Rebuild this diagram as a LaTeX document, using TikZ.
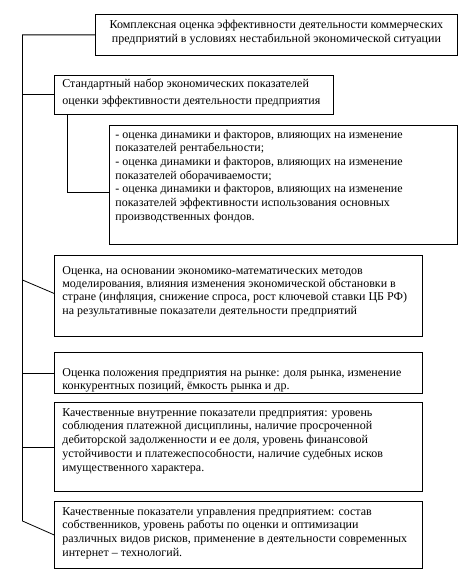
\documentclass[tikz,border=0pt]{standalone}
\usepackage{fontspec}
\setmainfont{Liberation Serif}
\newcommand\bxtext[6]{% width, height, left pad, first baseline, baselineskip, text
  \parbox[c][#2pt][t]{#1pt}{\fontsize{12}{#5}\selectfont\leftskip=#3pt\rightskip=0pt plus 1fil\parindent=0pt\rule{0pt}{#4pt}#6}}
\newcommand\bxcenter[5]{% width, height, first baseline, baselineskip, text
  \parbox[c][#2pt][t]{#1pt}{\fontsize{12}{#4}\selectfont\centering\rule{0pt}{#3pt}#5}}
\begin{document}
\begin{tikzpicture}[x=1pt,y=-1pt,
  box/.style={draw,line width=0.8pt,inner sep=0pt,anchor=north west},
  link/.style={draw,line width=0.8pt}]
\useasboundingbox (0,0) rectangle (470,588);
\node[box] (b1) at (95,14) {\bxcenter{362}{41}{14}{14}{Комплексная оценка эффективности деятельности коммерческих\\ предприятий в условиях нестабильной экономической ситуации}};
\node[box] (b2) at (54,75) {\bxtext{279}{39}{8}{12}{17.5}{Стандартный набор экономических показателей\\ оценки эффективности деятельности предприятия}};
\node[box] (b3) at (109,125) {\bxtext{348}{119}{6}{13}{13.6}{- оценка динамики и факторов, влияющих на изменение\\ показателей рентабельности;\\ - оценка динамики и факторов, влияющих на изменение\\ показателей оборачиваемости;\\ - оценка динамики и факторов, влияющих на изменение\\ показателей эффективности использования основных\\ производственных фондов.}};
\node[box] (b4) at (54,255) {\bxtext{368}{81}{8}{18.7}{13.3}{Оценка, на основании экономико-математических методов\\ моделирования, влияния изменения экономической обстановки в\\ стране (инфляция, снижение спроса, рост ключевой ставки ЦБ РФ)\\ на результативные показатели деятельности предприятий}};
\node[box] (b5) at (54,352) {\bxtext{368}{41}{8}{23.7}{13.3}{Оценка положения предприятия на рынке: доля рынка, изменение\\ конкурентных позиций, ёмкость рынка и др.}};
\node[box] (b6) at (54,402) {\bxtext{368}{89}{8}{13.7}{13.8}{Качественные внутренние показатели предприятия: уровень\\ соблюдения платежной дисциплины, наличие просроченной\\ дебиторской задолженности и ее доля, уровень финансовой\\ устойчивости и платежеспособности, наличие судебных исков\\ имущественного характера.}};
\node[box] (b7) at (54,501) {\bxtext{368}{67}{8}{13.7}{13.8}{Качественные показатели управления предприятием: состав\\ собственников, уровень работы по оценки и оптимизации\\ различных видов рисков, применение в деятельности современных\\ интернет – технологий.}};
\coordinate (spine) at (22.5,0);
\coordinate (send) at (22.5,521);
\coordinate (j4) at (22.5,280);
\draw[link] (b1.west) -| (send) -- (b7.west);
\draw[link] (spine |- b2.west) -- (b2.west);
\draw[link] ([xshift=13pt]b2.south west) |- ([yshift=-7.5pt]b3.west);
\draw[link] (j4) -- ([yshift=2.5pt]b4.west);
\draw[link] (spine |- b5.west) -- (b5.west);
\draw[link] (spine |- b6.west) -- (b6.west);
\end{tikzpicture}
\end{document}
